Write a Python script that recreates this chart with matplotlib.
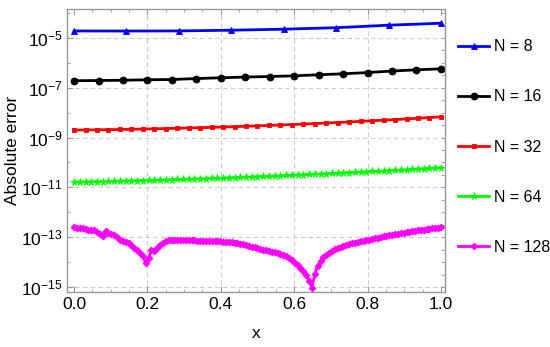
import numpy as np
import matplotlib
matplotlib.use("Agg")
import matplotlib.pyplot as plt
from matplotlib.ticker import FixedLocator, NullFormatter, FixedFormatter

plt.rcParams['font.family'] = ['Liberation Sans', 'DejaVu Sans']
plt.rcParams['mathtext.fontset'] = 'custom'
plt.rcParams['mathtext.rm'] = 'Liberation Sans'
plt.rcParams['mathtext.it'] = 'Liberation Sans'

labels = ["N = 8", "N = 16", "N = 32", "N = 64", "N = 128"]
Ns = [8, 16, 32, 64, 128]

err8 = [1.90e-5, 1.89e-5, 1.91e-5, 2.04e-5, 2.24e-5, 2.57e-5, 3.24e-5, 3.89e-5]

err16 = [1.91e-7, 1.95e-7, 2.00e-7, 2.09e-7, 2.14e-7, 2.34e-7, 2.51e-7, 2.69e-7,
         2.82e-7, 3.02e-7, 3.31e-7, 3.63e-7, 4.07e-7, 4.68e-7, 5.25e-7, 5.75e-7]

err32 = [2.00e-9, 2.02e-9, 2.05e-9, 2.07e-9, 2.11e-9, 2.15e-9, 2.19e-9, 2.24e-9,
         2.30e-9, 2.36e-9, 2.42e-9, 2.49e-9, 2.57e-9, 2.65e-9, 2.74e-9, 2.84e-9,
         2.95e-9, 3.07e-9, 3.20e-9, 3.33e-9, 3.48e-9, 3.65e-9, 3.83e-9, 4.02e-9,
         4.23e-9, 4.46e-9, 4.71e-9, 4.98e-9, 5.27e-9, 5.60e-9, 5.96e-9, 6.34e-9,
         6.76e-9]

err64 = [1.622e-11, 1.640e-11, 1.658e-11, 1.678e-11, 1.698e-11, 1.719e-11, 1.740e-11,
         1.763e-11, 1.786e-11, 1.810e-11, 1.835e-11, 1.861e-11, 1.888e-11, 1.916e-11,
         1.945e-11, 1.975e-11, 2.007e-11, 2.039e-11, 2.073e-11, 2.107e-11, 2.143e-11,
         2.181e-11, 2.219e-11, 2.259e-11, 2.301e-11, 2.344e-11, 2.388e-11, 2.434e-11,
         2.482e-11, 2.532e-11, 2.583e-11, 2.636e-11, 2.692e-11, 2.749e-11, 2.808e-11,
         2.870e-11, 2.933e-11, 2.999e-11, 3.068e-11, 3.139e-11, 3.213e-11, 3.289e-11,
         3.368e-11, 3.451e-11, 3.537e-11, 3.626e-11, 3.718e-11, 3.814e-11, 3.913e-11,
         4.016e-11, 4.124e-11, 4.236e-11, 4.351e-11, 4.472e-11, 4.597e-11, 4.727e-11,
         4.863e-11, 5.004e-11, 5.150e-11, 5.303e-11, 5.462e-11, 5.627e-11, 5.800e-11,
         5.979e-11, 6.166e-11]

err128 = [2.51e-13, 2.40e-13, 2.29e-13, 2.34e-13, 2.09e-13, 1.91e-13, 2.00e-13, 1.91e-13,
          1.66e-13, 1.38e-13, 1.10e-13, 1.74e-13, 1.51e-13, 1.38e-13, 1.20e-13, 1.05e-13,
          7.94e-14, 6.92e-14, 6.61e-14, 6.03e-14, 5.01e-14, 3.80e-14, 3.16e-14, 2.40e-14,
          1.74e-14, 9.12e-15, 1.45e-14, 3.02e-14, 2.75e-14, 3.80e-14, 5.01e-14, 6.03e-14,
          7.24e-14, 7.59e-14, 7.59e-14, 7.59e-14, 7.59e-14, 7.59e-14, 7.59e-14, 7.41e-14,
          7.41e-14, 7.41e-14, 7.41e-14, 7.24e-14, 7.24e-14, 7.24e-14, 7.08e-14, 7.08e-14,
          7.08e-14, 6.92e-14, 6.92e-14, 6.76e-14, 6.61e-14, 6.46e-14, 6.31e-14, 6.17e-14,
          6.03e-14, 5.75e-14, 5.50e-14, 5.25e-14, 4.90e-14, 4.57e-14, 4.17e-14, 3.89e-14,
          3.63e-14, 3.39e-14, 3.16e-14, 2.95e-14, 2.75e-14, 2.63e-14, 2.51e-14, 2.40e-14,
          2.19e-14, 1.95e-14, 1.70e-14, 1.45e-14, 1.20e-14, 9.55e-15, 7.59e-15, 6.03e-15,
          4.37e-15, 3.02e-15, 1.82e-15, 9.12e-16, 3.47e-15, 7.24e-15, 1.10e-14, 1.58e-14,
          2.00e-14, 2.40e-14, 2.88e-14, 3.31e-14, 3.80e-14, 4.17e-14, 4.57e-14, 4.90e-14,
          5.25e-14, 5.62e-14, 6.03e-14, 6.31e-14, 6.76e-14, 7.24e-14, 7.59e-14, 7.94e-14,
          8.51e-14, 8.91e-14, 9.55e-14, 1.00e-13, 1.07e-13, 1.12e-13, 1.17e-13, 1.26e-13,
          1.32e-13, 1.38e-13, 1.45e-13, 1.51e-13, 1.58e-13, 1.62e-13, 1.70e-13, 1.78e-13,
          1.86e-13, 1.91e-13, 2.00e-13, 2.09e-13, 2.19e-13, 2.24e-13, 2.34e-13, 2.40e-13,
          2.51e-13]

series = [err8, err16, err32, err64, err128]
colors = ["#0000ff", "#000000", "#ff0000", "#00ff00", "#ff00ff"]
markers = ["^", "o", "s", "*", "D"]
msizes = [4.5, 5, 3.5, 5.5, 3.5]

xticks = [0.0, 0.2, 0.4, 0.6, 0.8, 1.0]
xticklabels = ["0.0", "0.2", "0.4", "0.6", "0.8", "1.0"]
yticks_major = [1e-15, 1e-13, 1e-11, 1e-9, 1e-7, 1e-5]
yticklabels = [r"$10^{-15}$", r"$10^{-13}$", r"$10^{-11}$", r"$10^{-9}$", r"$10^{-7}$", r"$10^{-5}$"]

fig = plt.figure(figsize=(5.5, 3.47), dpi=100)
ax = fig.add_axes([0.122, 0.1585, 0.687, 0.8155])

handles = []
for N, vals, c, m, ms, lab in zip(Ns, series, colors, markers, msizes, labels):
    x = np.linspace(0, 1, len(vals))
    h, = ax.plot(x, vals, color=c, marker=m, markersize=ms, linewidth=2,
                 markeredgewidth=0.6, markeredgecolor=c, label=lab)
    handles.append(h)

ax.set_yscale('log')
ax.set_xlim(-0.019, 1.011)
ax.set_ylim(10**-15.2, 10**-3.84)

ax.yaxis.set_major_locator(FixedLocator(yticks_major))
ax.yaxis.set_major_formatter(FixedFormatter(yticklabels))
ax.yaxis.set_minor_locator(FixedLocator([10.0**e for e in range(-16, -3)]))
ax.yaxis.set_minor_formatter(NullFormatter())
ax.xaxis.set_major_locator(FixedLocator(xticks))
ax.xaxis.set_major_formatter(FixedFormatter(xticklabels))
ax.xaxis.set_minor_locator(FixedLocator(np.arange(-0.0, 1.01, 0.05)))

spine_col = "#999999"
for s in ax.spines.values():
    s.set_color(spine_col)
    s.set_linewidth(1.0)
ax.tick_params(which='both', direction='in', top=True, right=False, color=spine_col,
               labelcolor='black')
ax.tick_params(axis='x', which='major', labelsize=12.5)
ax.tick_params(axis='y', which='major', labelsize=12.5, pad=3)
ax.tick_params(which='major', length=4, width=0.8)
ax.tick_params(which='minor', length=2.5, width=0.6)

# right-side ticks (unlabelled, denser)
sec = ax.secondary_yaxis('right')
sec.set_yscale('log')
sec.yaxis.set_major_locator(FixedLocator([10.0**(e / 2) for e in range(-32, -6)]))
sec.yaxis.set_major_formatter(NullFormatter())
sec.yaxis.set_minor_locator(FixedLocator([]))
sec.tick_params(direction='in', length=3, width=0.6, color=spine_col)
sec.spines['right'].set_color(spine_col)

# grid lines
for yv in yticks_major:
    ax.axhline(yv, color="#cccccc", linestyle=(0, (4, 3)), linewidth=0.8, zorder=0)
for xv in xticks[1:-1]:
    ax.axvline(xv, color="#cccccc", linestyle=(0, (4, 3)), linewidth=0.8, zorder=0)

ax.set_xlabel("x", fontsize=12.5, labelpad=10)
ax.set_ylabel("Absolute error", fontsize=12.5, labelpad=1)

fig.legend(handles=handles, labels=labels, loc='upper left',
           bbox_to_anchor=(0.822, 0.905), frameon=False, fontsize=11.5,
           labelspacing=2.2, handlelength=1.9, handletextpad=0.35,
           borderaxespad=0)

fig.savefig("out.png", dpi=100)
